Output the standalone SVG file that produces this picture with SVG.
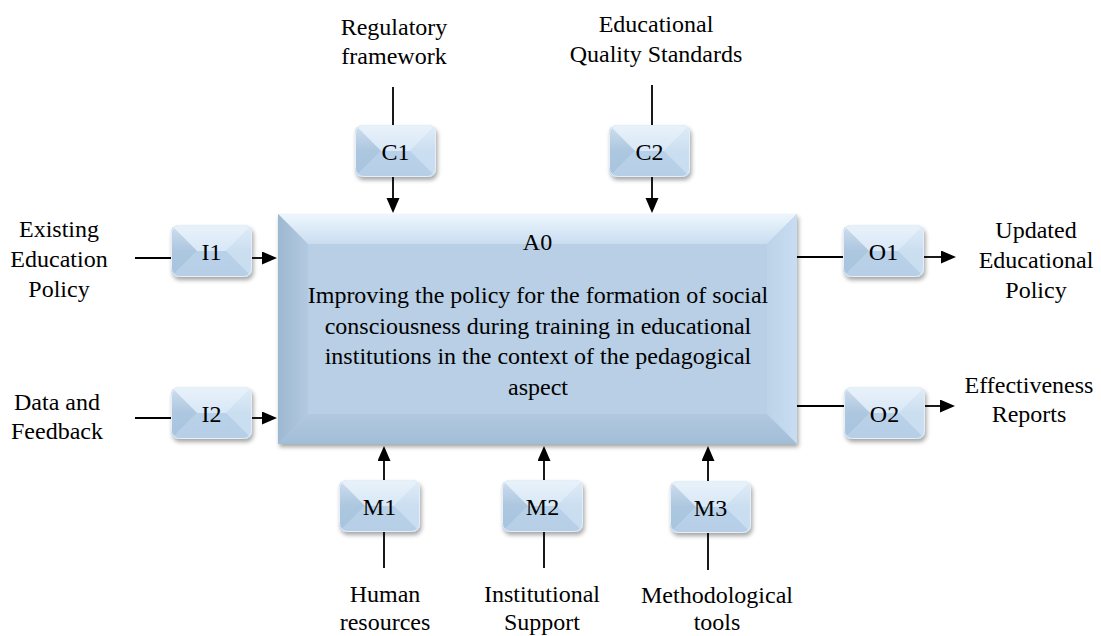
<svg xmlns="http://www.w3.org/2000/svg" xmlns:xlink="http://www.w3.org/1999/xlink" width="1101" height="636" viewBox="0 0 1101 636">
<style>
  text { font-family: "Liberation Serif", "Times New Roman", serif; font-size: 24px; fill: #000; }
  .c { text-anchor: middle; }
  .conn { stroke: #000; stroke-width: 1.8; fill: none; }
</style>
<defs>
  <filter id="shadow" x="-10%" y="-10%" width="130%" height="140%">
    <feDropShadow dx="1.5" dy="3" stdDeviation="2" flood-color="#000" flood-opacity="0.35"/>
  </filter>
  <marker id="arrow" markerUnits="userSpaceOnUse" markerWidth="16" markerHeight="14" refX="5" refY="6.5" orient="auto">
    <path d="M0,0 L15,6.5 L0,13 z" fill="#000"/>
  </marker>
  <linearGradient id="topBevel" x1="0" y1="0" x2="0" y2="1">
    <stop offset="0" stop-color="#eef6fd"/>
    <stop offset="1" stop-color="#c9ddf0"/>
  </linearGradient>
  <linearGradient id="leftBevel" x1="0" y1="0" x2="1" y2="0">
    <stop offset="0" stop-color="#9db8d2"/>
    <stop offset="1" stop-color="#b2cae1"/>
  </linearGradient>
  <linearGradient id="rightBevel" x1="0" y1="0" x2="1" y2="0">
    <stop offset="0" stop-color="#bcd3e9"/>
    <stop offset="1" stop-color="#c8ddf0"/>
  </linearGradient>
  <linearGradient id="bottomBevel" x1="0" y1="0" x2="0" y2="1">
    <stop offset="0" stop-color="#b1c9e0"/>
    <stop offset="1" stop-color="#a2bdd7"/>
  </linearGradient>
  <linearGradient id="gloss" x1="0" y1="0" x2="0" y2="1">
    <stop offset="0" stop-color="#fff" stop-opacity="0.45"/>
    <stop offset="0.5" stop-color="#fff" stop-opacity="0.05"/>
    <stop offset="1" stop-color="#fff" stop-opacity="0"/>
  </linearGradient>
  <clipPath id="sclip">
    <rect width="81" height="52" rx="8"/>
  </clipPath>
  <g id="sbox">
    <g clip-path="url(#sclip)">
      <rect width="81" height="52" fill="#bdd5ec"/>
      <polygon points="0,0 81,0 55,26 26,26" fill="#d6e7f6"/>
      <polygon points="0,0 26,26 0,52" fill="#a8c4de"/>
      <polygon points="81,0 55,26 81,52" fill="#c8ddf0"/>
      <polygon points="0,52 26,26 55,26 81,52" fill="#b6cfe7"/>
      <rect width="81" height="52" fill="url(#gloss)"/>
    </g>
    <rect x="0.5" y="0.5" width="80" height="51" rx="8" fill="none" stroke="#e4eff9" stroke-width="1"/>
  </g>
</defs>

<rect width="1101" height="636" fill="#fff"/>

<g id="connectors">
  <!-- controls -->
  <line class="conn" x1="393" y1="87" x2="393" y2="125"/>
  <line class="conn" x1="393" y1="177" x2="393" y2="203" marker-end="url(#arrow)"/>
  <line class="conn" x1="652" y1="85" x2="652" y2="125"/>
  <line class="conn" x1="652" y1="177" x2="652" y2="203" marker-end="url(#arrow)"/>
  <!-- inputs -->
  <line class="conn" x1="135" y1="258" x2="171" y2="258"/>
  <line class="conn" x1="252" y1="258" x2="267" y2="258" marker-end="url(#arrow)"/>
  <line class="conn" x1="135" y1="418" x2="171" y2="418"/>
  <line class="conn" x1="252" y1="418" x2="267" y2="418" marker-end="url(#arrow)"/>
  <!-- outputs -->
  <line class="conn" x1="797" y1="257" x2="843" y2="257"/>
  <line class="conn" x1="924" y1="257" x2="946" y2="257" marker-end="url(#arrow)"/>
  <line class="conn" x1="797" y1="406" x2="844" y2="406"/>
  <line class="conn" x1="925" y1="406" x2="945" y2="406" marker-end="url(#arrow)"/>
  <!-- mechanisms -->
  <line class="conn" x1="384" y1="568" x2="384" y2="532"/>
  <line class="conn" x1="384" y1="480" x2="384" y2="456" marker-end="url(#arrow)"/>
  <line class="conn" x1="544" y1="568" x2="544" y2="532"/>
  <line class="conn" x1="544" y1="480" x2="544" y2="456" marker-end="url(#arrow)"/>
  <line class="conn" x1="708" y1="570" x2="708" y2="533"/>
  <line class="conn" x1="708" y1="481" x2="708" y2="456" marker-end="url(#arrow)"/>
</g>

<g id="A0">
  <g filter="url(#shadow)">
    <rect x="278" y="214" width="519" height="230" fill="#b8cfe5"/>
  </g>
  <polygon points="278,214 797,214 767,244 308,244" fill="url(#topBevel)"/>
  <polygon points="278,214 308,244 308,414 278,444" fill="url(#leftBevel)"/>
  <polygon points="797,214 767,244 767,414 797,444" fill="url(#rightBevel)"/>
  <polygon points="278,444 308,414 767,414 797,444" fill="url(#bottomBevel)"/>
  <rect x="308" y="244" width="459" height="170" fill="#b8cfe5"/>
  <text class="c" x="537.5" y="250">A0</text>
  <text class="c" x="538" y="303">Improving the policy for the formation of social</text>
  <text class="c" x="538" y="334">consciousness during training in educational</text>
  <text class="c" x="538" y="364">institutions in the context of the pedagogical</text>
  <text class="c" x="538" y="395">aspect</text>
</g>

<g id="C1">
  <use xlink:href="#sbox" x="355" y="125" filter="url(#shadow)"/>
  <text class="c" x="395.5" y="160">C1</text>
  <text class="c" x="394" y="35">Regulatory</text>
  <text class="c" x="394" y="64">framework</text>
</g>
<g id="C2">
  <use xlink:href="#sbox" x="609" y="125" filter="url(#shadow)"/>
  <text class="c" x="649.5" y="160">C2</text>
  <text class="c" x="656" y="32">Educational</text>
  <text class="c" x="656" y="62">Quality Standards</text>
</g>
<g id="I1">
  <use xlink:href="#sbox" x="171" y="225" filter="url(#shadow)"/>
  <text class="c" x="211.5" y="260">I1</text>
  <text class="c" x="59" y="237">Existing</text>
  <text class="c" x="59" y="267">Education</text>
  <text class="c" x="59" y="297">Policy</text>
</g>
<g id="I2">
  <use xlink:href="#sbox" x="171" y="387" filter="url(#shadow)"/>
  <text class="c" x="211.5" y="422">I2</text>
  <text class="c" x="57" y="410">Data and</text>
  <text class="c" x="57" y="439">Feedback</text>
</g>
<g id="O1">
  <use xlink:href="#sbox" x="843" y="225" filter="url(#shadow)"/>
  <text class="c" x="883.5" y="260">O1</text>
  <text class="c" x="1036" y="238">Updated</text>
  <text class="c" x="1036" y="268">Educational</text>
  <text class="c" x="1036" y="298">Policy</text>
</g>
<g id="O2">
  <use xlink:href="#sbox" x="844" y="387" filter="url(#shadow)"/>
  <text class="c" x="884.5" y="422">O2</text>
  <text class="c" x="1029" y="393">Effectiveness</text>
  <text class="c" x="1029" y="422">Reports</text>
</g>
<g id="M1">
  <use xlink:href="#sbox" x="339" y="480" filter="url(#shadow)"/>
  <text class="c" x="379.5" y="515">M1</text>
  <text class="c" x="385" y="602">Human</text>
  <text class="c" x="385" y="630">resources</text>
</g>
<g id="M2">
  <use xlink:href="#sbox" x="502" y="480" filter="url(#shadow)"/>
  <text class="c" x="542.5" y="515">M2</text>
  <text class="c" x="542" y="602">Institutional</text>
  <text class="c" x="542" y="630">Support</text>
</g>
<g id="M3">
  <use xlink:href="#sbox" x="670" y="481" filter="url(#shadow)"/>
  <text class="c" x="710.5" y="516">M3</text>
  <text class="c" x="717" y="603">Methodological</text>
  <text class="c" x="717" y="630">tools</text>
</g>
</svg>
